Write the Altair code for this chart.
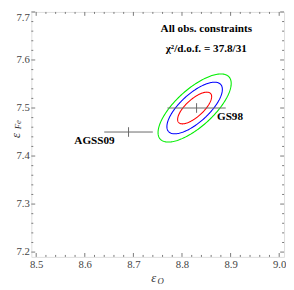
import altair as alt
import numpy as np
import pandas as pd

# ---------------- data ----------------
x_ticks = [8.5, 8.6, 8.7, 8.8, 8.9, 9.0]
y_ticks = [7.2, 7.3, 7.4, 7.5, 7.6, 7.7]
x_minor = [round(8.5 + 0.02 * i, 2) for i in range(26) if i % 5 != 0]
y_minor = [round(7.2 + 0.02 * i, 2) for i in range(26) if i % 5 != 0]

sources = ["AGSS09", "GS98"]
src_O = [8.69, 8.83]
src_O_err = [0.05, 0.06]
src_Fe = [7.45, 7.50]
src_Fe_err = [0.01, 0.01]
label_dx = [-35, 21]
label_dy = [9, 9]
label_align = ["center", "left"]

fit_O = 8.826
fit_Fe = 7.500
fit_sigma_O = 0.035
fit_sigma_Fe = 0.033
fit_rho = 0.72
contour_levels = ["1", "2", "3"]
contour_scale = [1.0, 1.63, 2.15]
contour_colors = ["#ff0000", "#0000ff", "#00ee00"]

title_line1 = "All obs. constraints"
title_line2 = "\u03c7\u00b2/d.o.f. = 37.8/31"

# ---------------- tables ----------------
t = np.linspace(0, 2 * np.pi, 181)
rows = []
for lev, k in zip(contour_levels, contour_scale):
    for i, tt in enumerate(t):
        rows.append({
            "level": lev, "i": i,
            "O": fit_O + k * fit_sigma_O * np.cos(tt),
            "Fe": fit_Fe + k * fit_sigma_Fe * (fit_rho * np.cos(tt) + np.sqrt(1 - fit_rho ** 2) * np.sin(tt)),
        })
ell_df = pd.DataFrame(rows)

src_df = pd.DataFrame({
    "name": sources, "O": src_O, "Fe": src_Fe,
    "Olo": [o - e for o, e in zip(src_O, src_O_err)],
    "Ohi": [o + e for o, e in zip(src_O, src_O_err)],
    "Felo": [f - e for f, e in zip(src_Fe, src_Fe_err)],
    "Fehi": [f + e for f, e in zip(src_Fe, src_Fe_err)],
})

W, H = 260, 252
FONT = "Liberation Serif"
FRAME = "#777777"
xs = alt.Scale(domain=[8.49, 9.01], nice=False, zero=False)
ys = alt.Scale(domain=[7.19, 7.70], nice=False, zero=False)

ellipses = alt.Chart(ell_df).mark_line(strokeWidth=1.1).encode(
    x=alt.X("O:Q", scale=xs, title=None,
            axis=alt.Axis(values=x_ticks, format=".1f", grid=False, domain=False,
                          ticks=False, tickSize=0, labelPadding=2, labelFont=FONT,
                          labelFontSize=11, labelColor="#444444")),
    y=alt.Y("Fe:Q", scale=ys, title=None,
            axis=alt.Axis(values=y_ticks, format=".1f", grid=False, domain=False,
                          ticks=False, tickSize=0, labelPadding=2, labelFont=FONT,
                          labelFontSize=11, labelColor="#444444", labelFlush=True)),
    color=alt.Color("level:N", scale=alt.Scale(domain=contour_levels, range=contour_colors), legend=None),
    detail="level:N",
    order="i:Q",
)

hbar = alt.Chart(src_df).mark_rule(color="#666666", strokeWidth=1).encode(
    x=alt.X("Olo:Q", scale=xs), x2="Ohi:Q", y=alt.Y("Fe:Q", scale=ys))
vbar = alt.Chart(src_df).mark_rule(color="#666666", strokeWidth=1).encode(
    x=alt.X("O:Q", scale=xs), y=alt.Y("Felo:Q", scale=ys), y2="Fehi:Q")

labels = []
for i, name in enumerate(sources):
    labels.append(
        alt.Chart(src_df.iloc[[i]]).mark_text(
            font=FONT, fontSize=11.5, fontWeight="bold", color="black",
            align=label_align[i], baseline="middle", dx=label_dx[i], dy=label_dy[i]
        ).encode(x=alt.X("O:Q", scale=xs), y=alt.Y("Fe:Q", scale=ys), text="name:N")
    )

ann1 = alt.Chart(pd.DataFrame({"t": [title_line1]})).mark_text(
    font=FONT, fontSize=11.5, fontWeight="bold", color="black", align="center", baseline="middle"
).encode(x=alt.value(180), y=alt.value(18), text="t:N")
ann2 = alt.Chart(pd.DataFrame({"t": [title_line2]})).mark_text(
    font=FONT, fontSize=11.5, fontWeight="bold", color="black", align="center", baseline="middle"
).encode(x=alt.value(180), y=alt.value(38), text="t:N")

# axis titles (epsilon with subscripts)
def txt(s, x, y, size, angle=0, style="italic"):
    return alt.Chart(pd.DataFrame({"t": [s]})).mark_text(
        font=FONT, fontSize=size, fontStyle=style, color="#333333",
        align="center", baseline="middle", angle=angle
    ).encode(x=alt.value(x), y=alt.value(y), text="t:N")

xt1 = txt("\u03b5", 126, 274, 13)
xt2 = txt("O", 133, 277, 9)
yt1 = txt("\u03b5", -16, 127, 13, angle=270)
yt2 = txt("Fe", -14, 116, 9, angle=270)

# frame ticks (inward)
def xt_rules(vals, ln):
    d = pd.DataFrame({"v": vals})
    b = alt.Chart(d).mark_rule(color=FRAME, strokeWidth=1).encode(
        x=alt.X("v:Q", scale=xs), y=alt.value(H), y2=alt.value(H - ln))
    tp = alt.Chart(d).mark_rule(color=FRAME, strokeWidth=1).encode(
        x=alt.X("v:Q", scale=xs), y=alt.value(0), y2=alt.value(ln))
    return [b, tp]

def yt_rules(vals, ln):
    d = pd.DataFrame({"v": vals})
    l = alt.Chart(d).mark_rule(color=FRAME, strokeWidth=1).encode(
        y=alt.Y("v:Q", scale=ys), x=alt.value(0), x2=alt.value(ln))
    r = alt.Chart(d).mark_rule(color=FRAME, strokeWidth=1).encode(
        y=alt.Y("v:Q", scale=ys), x=alt.value(W), x2=alt.value(W - ln))
    return [l, r]

tick_layers = xt_rules(x_ticks, 4) + xt_rules(x_minor, 2) + yt_rules(y_ticks, 4) + yt_rules(y_minor, 2)

chart = alt.layer(
    ellipses, *tick_layers, hbar, vbar, *labels, ann1, ann2, xt1, xt2, yt1, yt2
).properties(
    width=W, height=H,
    autosize=alt.AutoSizeParams(type="none"),
    padding={"left": 24, "top": 0, "right": 2, "bottom": 30},
).configure_view(
    stroke=FRAME, strokeWidth=1
).configure(background="white")

chart.save("out.html", embed_options={"renderer": "svg", "actions": False})
